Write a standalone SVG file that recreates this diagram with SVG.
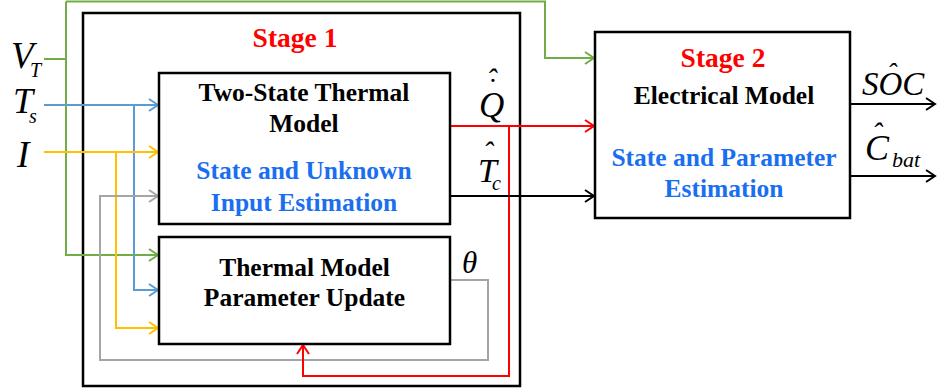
<svg xmlns="http://www.w3.org/2000/svg" width="937" height="391" viewBox="0 0 937 391">
<style>
.box{fill:none;stroke:#000;stroke-width:2.5}
.t{font-family:"Liberation Serif","Times New Roman",serif;font-weight:bold;font-size:25.5px;text-anchor:middle}
.stage{font-family:"Liberation Serif","Times New Roman",serif;font-weight:bold;font-size:27.5px;fill:#ff0000;text-anchor:middle}
.blue{fill:#1a6ff0}
.m{font-family:"Liberation Serif","Times New Roman",serif;font-style:italic;fill:#000}
.c{fill:none;stroke-width:2}
</style>
<defs>
<marker id="aG" viewBox="-11 -7 13 14" markerWidth="13" markerHeight="14" refX="0" refY="0" orient="auto" markerUnits="userSpaceOnUse"><path d="M-9,-6 L0,0 L-9,6" fill="none" stroke="#70ad47" stroke-width="2"/></marker>
<marker id="aB" viewBox="-11 -7 13 14" markerWidth="13" markerHeight="14" refX="0" refY="0" orient="auto" markerUnits="userSpaceOnUse"><path d="M-9,-6 L0,0 L-9,6" fill="none" stroke="#5b9bd5" stroke-width="2"/></marker>
<marker id="aY" viewBox="-11 -7 13 14" markerWidth="13" markerHeight="14" refX="0" refY="0" orient="auto" markerUnits="userSpaceOnUse"><path d="M-9,-6 L0,0 L-9,6" fill="none" stroke="#ffc000" stroke-width="2"/></marker>
<marker id="aS" viewBox="-11 -7 13 14" markerWidth="13" markerHeight="14" refX="0" refY="0" orient="auto" markerUnits="userSpaceOnUse"><path d="M-9,-6 L0,0 L-9,6" fill="none" stroke="#a5a5a5" stroke-width="2"/></marker>
<marker id="aR" viewBox="-11 -7 13 14" markerWidth="13" markerHeight="14" refX="0" refY="0" orient="auto" markerUnits="userSpaceOnUse"><path d="M-9,-6 L0,0 L-9,6" fill="none" stroke="#ff0000" stroke-width="2"/></marker>
<marker id="aK" viewBox="-11 -7 13 14" markerWidth="13" markerHeight="14" refX="0" refY="0" orient="auto" markerUnits="userSpaceOnUse"><path d="M-9,-6 L0,0 L-9,6" fill="none" stroke="#000" stroke-width="2"/></marker>
</defs>
<rect width="937" height="391" fill="#fff"/>

<g id="stage1">
<rect class="box" x="83" y="13" width="437" height="373"/>
<text class="stage" x="295" y="47">Stage 1</text>
</g>

<g id="connectors">
<path class="c" stroke="#70ad47" d="M44,59 H66"/>
<path class="c" stroke="#70ad47" d="M66,1.5 V255 H158" marker-end="url(#aG)"/>
<path class="c" stroke="#70ad47" d="M66,1.5 H545 V58 H594" marker-end="url(#aG)"/>
<path class="c" stroke="#5b9bd5" d="M44,105 H158" marker-end="url(#aB)"/>
<path class="c" stroke="#5b9bd5" d="M134,105 V290 H158" marker-end="url(#aB)"/>
<path class="c" stroke="#ffc000" d="M44,152 H158" marker-end="url(#aY)"/>
<path class="c" stroke="#ffc000" d="M116,152 V328 H158" marker-end="url(#aY)"/>
<path class="c" stroke="#a5a5a5" d="M450,280 H488 V360 H100 V196 H158" marker-end="url(#aS)"/>
<path class="c" stroke="#ff0000" d="M450,126 H594" marker-end="url(#aR)"/>
<path class="c" stroke="#ff0000" d="M509,126 V376 H303 V345" marker-end="url(#aR)"/>
<path class="c" stroke="#000" d="M450,196 H594" marker-end="url(#aK)"/>
<path class="c" stroke="#000" d="M850,104 H935" marker-end="url(#aK)"/>
<path class="c" stroke="#000" d="M850,176 H935" marker-end="url(#aK)"/>
</g>

<g id="inputs">
<text class="m" x="11" y="68" font-size="37">V</text>
<text class="m" x="30" y="77" font-size="20">T</text>
<text class="m" x="13" y="113" font-size="36">T</text>
<text class="m" x="29" y="123" font-size="20">s</text>
<text class="m" x="17" y="167" font-size="37">I</text>
</g>

<g id="two-state">
<rect class="box" x="159" y="73" width="291" height="151"/>
<text class="t" x="304" y="101">Two-State Thermal</text>
<text class="t" x="304" y="132">Model</text>
<text class="t blue" x="304" y="179">State and Unknown</text>
<text class="t blue" x="304" y="211">Input Estimation</text>
</g>

<g id="param-update">
<rect class="box" x="159" y="237" width="291" height="107"/>
<text class="t" x="304.5" y="276">Thermal Model</text>
<text class="t" x="304.5" y="306">Parameter Update</text>
</g>

<g id="stage2">
<rect class="box" x="595" y="32" width="255" height="186"/>
<text class="stage" x="723" y="67">Stage 2</text>
<text class="t" x="724" y="104">Electrical Model</text>
<text class="t blue" x="724" y="166">State and Parameter</text>
<text class="t blue" x="724" y="197">Estimation</text>
</g>

<g id="labels">
<text class="m" x="479" y="117" font-size="35">Q</text>
<text class="m" x="486.5" y="89" font-size="30">ˆ</text>
<text class="m" x="486" y="99" font-size="30">˙</text>
<text class="m" x="478" y="182" font-size="34">T</text>
<text class="m" x="492" y="190" font-size="20">c</text>
<text class="m" x="483" y="162" font-size="30">ˆ</text>
<text class="m" x="462" y="273" font-size="31">θ</text>
<text class="m" x="862" y="95" font-size="33">SOC</text>
<text class="m" x="887" y="82" font-size="28">ˆ</text>
<text class="m" x="865" y="160" font-size="36">C</text>
<text class="m" x="892" y="167" font-size="22">bat</text>
<text class="m" x="872" y="143" font-size="30">ˆ</text>
</g>
</svg>
